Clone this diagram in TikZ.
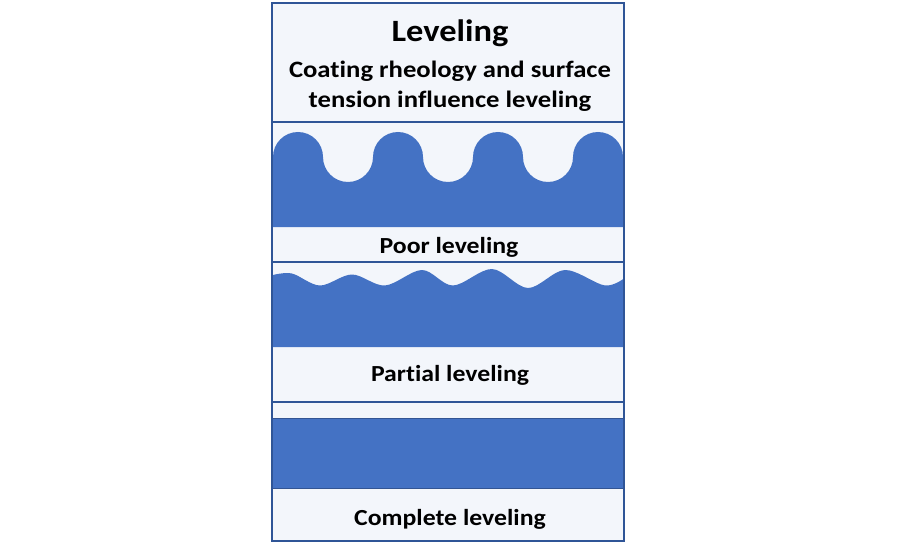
\documentclass[tikz,border=0pt]{standalone}
\usepackage{fontspec}
\setmainfont{Carlito}[Ligatures={NoCommon}]
\definecolor{wave}{HTML}{4472C4}
\definecolor{frame}{HTML}{2F5597}
\definecolor{panel}{HTML}{F3F6FB}
\begin{document}
\begin{tikzpicture}[x=1pt,y=1pt,
  panelbox/.style={draw=frame,line width=2.5pt},
  panelfill/.style={fill=panel},
  layer/.style={fill=wave},
  lbl/.style={font=\bfseries\fontsize{23}{26}\selectfont,anchor=base,xscale=1.12,inner sep=0pt},
  ttl/.style={font=\bfseries\fontsize{31}{34}\selectfont,anchor=base,xscale=1.11,inner sep=0pt},
  sub/.style={font=\bfseries\fontsize{23.5}{26}\selectfont,anchor=base,xscale=1.135,inner sep=0pt}]
\useasboundingbox (0,0) rectangle (900,550);
\fill[white] (0,0) rectangle (900,550);
% panel backgrounds
\fill[panelfill] (272,9) rectangle (624,547);
% poor leveling layer
\begin{scope}
  \clip (272,288) rectangle (624,428);
  \fill[layer] (270,323) -- (270,393) -- (273,393)
    arc[start angle=180,end angle=0,radius=25]
    arc[start angle=180,end angle=360,radius=25]
    arc[start angle=180,end angle=0,radius=25]
    arc[start angle=180,end angle=360,radius=25]
    arc[start angle=180,end angle=0,radius=25]
    arc[start angle=180,end angle=360,radius=25]
    arc[start angle=180,end angle=0,radius=25]
    -- (626,393) -- (626,323) -- cycle;
\end{scope}
% partial leveling layer
\begin{scope}
  \clip (272,148) rectangle (624,288);
  \fill[layer] (270,203) -- (270,274)
    -- plot[smooth,tension=0.55] coordinates {(273,275) (292,276.5) (320,264.5) (352,275.5) (385,264.5) (422,280) (453,264.5) (492,281) (528,262) (565,280) (605,264.5) (626,273)}
    -- (626,203) -- cycle;
\end{scope}
% complete leveling layer
\fill[layer] (272,62) rectangle (624,132);
\draw[wave!75!black,line width=0.8pt] (272,132) -- (624,132) (272,62) -- (624,62);
% panel frames
\draw[panelbox] (272,428) rectangle (624,547);
\draw[panelbox] (272,288) rectangle (624,428);
\draw[panelbox] (272,148) rectangle (624,288);
\draw[panelbox] (272,9) rectangle (624,148);
% texts
\node[ttl] (title) at (450,508) {Leveling};
\node[sub] (sub1) at (450,472) {Coating rheology and surface};
\node[sub] (sub2) at (450,442) {tension influence leveling};
\node[lbl] (poor) at (449,297) {Poor leveling};
\node[lbl] (partial) at (450,169) {Partial leveling};
\node[lbl] (complete) at (450,25) {Complete leveling};
\end{tikzpicture}
\end{document}
